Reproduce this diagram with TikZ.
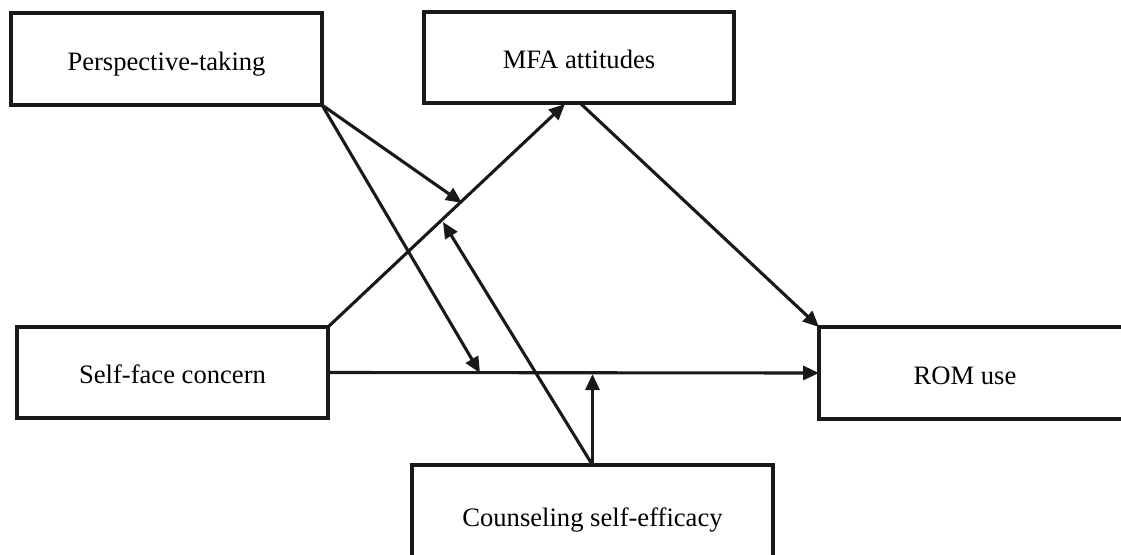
\documentclass[tikz,border=0pt]{standalone}
\usepackage{fontspec}
\setmainfont{Liberation Serif}
\usetikzlibrary{arrows.meta}
\begin{document}
\begin{tikzpicture}[x=1pt,y=-1pt,
  box/.style={draw=black!90, line width=3.2pt, outer sep=0pt, inner sep=0pt,
    font=\fontsize{26.6}{30}\selectfont, text height=22pt, text depth=0pt},
  lbl/.style={font=\fontsize{26.6}{30}\selectfont, inner sep=0pt, text height=22pt, text depth=0pt},
  conn/.style={draw=black!90, line width=3.1pt, -{Triangle[length=16pt,width=14pt]}}]
\useasboundingbox (0,0) rectangle (1121,554);
\clip (0,0) rectangle (1121,554);
% boxes
\node[box, minimum width=311, minimum height=92] (pt) at (166.5,59) {Perspective-taking};
\node[box, minimum width=310, minimum height=91] (mfa) at (579,57.5) {MFA attitudes};
\node[box, minimum width=311, minimum height=91] (sfc) at (172.5,372.5) {Self-face concern};
\node[box, minimum width=330, minimum height=92, anchor=west] (rom) at (819,373) {};
\node[lbl] (romtext) at (965,373) {ROM use};
\node[box, minimum width=361, minimum height=100] (cse) at (592.5,515) {Counseling self-efficacy};
% tips on paths
\coordinate (t1) at (462,203);
\coordinate (t2) at (480,373);
\coordinate (t3) at (565,104);
\coordinate (m1) at (580,103);
\coordinate (t4) at (592.5,374);
\coordinate (t5) at (443,222);
% connectors
\draw[conn] (pt.south east) -- (t1);
\draw[conn] (pt.south east) -- (t2);
\draw[conn] (sfc.north east) -- (t3);
\draw[conn] (m1) -- (rom.north west);
\draw[conn] (sfc.east) -- (rom.west);
\draw[conn] (cse.north) -- (t4);
\draw[conn] (cse.north) -- (t5);
\end{tikzpicture}
\end{document}
